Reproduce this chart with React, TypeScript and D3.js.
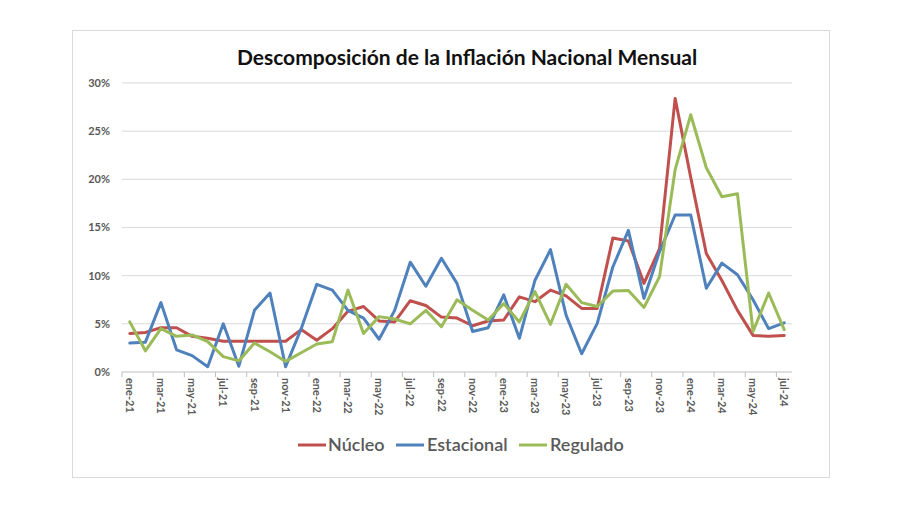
import React from "react";
import * as d3 from "d3";

const months: string[] = [
  "ene-21","feb-21","mar-21","abr-21","may-21","jun-21","jul-21","ago-21","sep-21","oct-21","nov-21","dic-21",
  "ene-22","feb-22","mar-22","abr-22","may-22","jun-22","jul-22","ago-22","sep-22","oct-22","nov-22","dic-22",
  "ene-23","feb-23","mar-23","abr-23","may-23","jun-23","jul-23","ago-23","sep-23","oct-23","nov-23","dic-23",
  "ene-24","feb-24","mar-24","abr-24","may-24","jun-24","jul-24",
];

const nucleo: number[] = [
  4.0, 4.1, 4.6, 4.6, 3.7, 3.5, 3.2, 3.2, 3.2, 3.2, 3.2, 4.4,
  3.3, 4.5, 6.3, 6.8, 5.3, 5.2, 7.4, 6.9, 5.7, 5.6, 4.8, 5.3,
  5.4, 7.8, 7.3, 8.5, 7.9, 6.6, 6.6, 13.9, 13.6, 9.2, 12.8, 28.4,
  20.2, 12.3, 9.5, 6.4, 3.8, 3.7, 3.8,
];

const estacional: number[] = [
  3.0, 3.1, 7.2, 2.3, 1.7, 0.55, 5.0, 0.6, 6.4, 8.2, 0.55, 4.5,
  9.1, 8.5, 6.4, 5.6, 3.4, 6.4, 11.4, 8.9, 11.8, 9.2, 4.2, 4.6,
  8.0, 3.5, 9.5, 12.7, 5.9, 1.9, 5.05, 10.9, 14.7, 7.65, 12.5, 16.3,
  16.3, 8.7, 11.3, 10.1, 7.5, 4.5, 5.1,
];

const regulado: number[] = [
  5.2, 2.2, 4.5, 3.7, 3.85, 3.15, 1.6, 1.15, 3.0, 2.1, 1.1, 2.0,
  2.9, 3.15, 8.5, 4.0, 5.75, 5.5, 5.0, 6.4, 4.7, 7.5, 6.4, 5.4,
  7.1, 5.2, 8.35, 4.95, 9.1, 7.2, 6.8, 8.4, 8.45, 6.7, 9.9, 21.0,
  26.7, 21.2, 18.2, 18.5, 4.2, 8.2, 4.4,
];

const yTicks: number[] = [0, 5, 10, 15, 20, 25, 30];

const seriesNames: string[] = ["Núcleo", "Estacional", "Regulado"];
const seriesColors: string[] = ["#C0504D", "#4F81BD", "#9BBB59"];

const W = 900;
const H = 505;
const left = 122;
const right = 792;
const top = 83;
const bottom = 372;

export default function App() {
  const x = d3.scaleBand<string>().domain(months).range([left, right]).padding(0);
  const bw = x.bandwidth();
  const cx = (m: string) => (x(m) as number) + bw / 2;
  const y = d3.scaleLinear().domain([0, 30]).range([bottom, top]);

  const line = d3
    .line<number>()
    .x((_, i) => cx(months[i]))
    .y((v) => y(v));

  const allSeries = [nucleo, estacional, regulado];
  const tickIdx = months.map((_, i) => i).filter((i) => i % 2 === 0);

  const legendItems = [
    { x: 298, tx: 328 },
    { x: 396, tx: 427 },
    { x: 519, tx: 550 },
  ];

  return (
    <svg width={W} height={H} style={{ display: "block", position: "absolute", left: 0, top: 0 }}>
      <rect x={0} y={0} width={W} height={H} fill="#fff" />
      <rect x={72.5} y={30.5} width={757} height={447} fill="#fff" stroke="#d9d9d9" strokeWidth={1} />
      <text
        x={467}
        y={65}
        textAnchor="middle"
        fontFamily="Lato, 'Open Sans', sans-serif"
        fontWeight={700}
        fontSize={21}
        fill="#111"
      >
        Descomposición de la Inflación Nacional Mensual
      </text>

      {yTicks.map((t) => (
        <g key={t}>
          {t > 0 && (
            <line x1={left} x2={right} y1={y(t)} y2={y(t)} stroke="#d9d9d9" strokeWidth={1} />
          )}
          <text
            x={110}
            y={y(t)}
            dy="0.35em"
            textAnchor="end"
            fontFamily="Lato, 'Open Sans', sans-serif"
            fontWeight={700}
            fontSize={11}
            fill="#595959"
          >
            {t}%
          </text>
        </g>
      ))}

      <line x1={left} x2={right} y1={bottom} y2={bottom} stroke="#bfbfbf" strokeWidth={1} />
      {tickIdx.map((i) => (
        <line
          key={"t" + i}
          x1={x(months[i]) as number}
          x2={x(months[i]) as number}
          y1={bottom}
          y2={bottom + 5}
          stroke="#bfbfbf"
          strokeWidth={1}
        />
      ))}
      {tickIdx.map((i) => (
        <text
          key={"l" + i}
          transform={`translate(${cx(months[i])},${bottom + 6}) rotate(90)`}
          dy="0.35em"
          textAnchor="start"
          fontFamily="Lato, 'Open Sans', sans-serif"
          fontWeight={700}
          fontSize={11}
          fill="#595959"
        >
          {months[i]}
        </text>
      ))}

      {allSeries.map((s, k) => (
        <path
          key={seriesNames[k]}
          d={line(s) as string}
          fill="none"
          stroke={seriesColors[k]}
          strokeWidth={3}
          strokeLinejoin="round"
          strokeLinecap="round"
        />
      ))}

      {seriesNames.map((n, k) => (
        <g key={"lg" + n}>
          <line
            x1={legendItems[k].x}
            x2={legendItems[k].x + 28}
            y1={445}
            y2={445}
            stroke={seriesColors[k]}
            strokeWidth={3}
          />
          <text
            x={legendItems[k].tx}
            y={445}
            dy="0.35em"
            fontFamily="Lato, 'Open Sans', sans-serif"
            fontWeight={600}
            fontSize={18}
            fill="#595959"
          >
            {n}
          </text>
        </g>
      ))}
    </svg>
  );
}
